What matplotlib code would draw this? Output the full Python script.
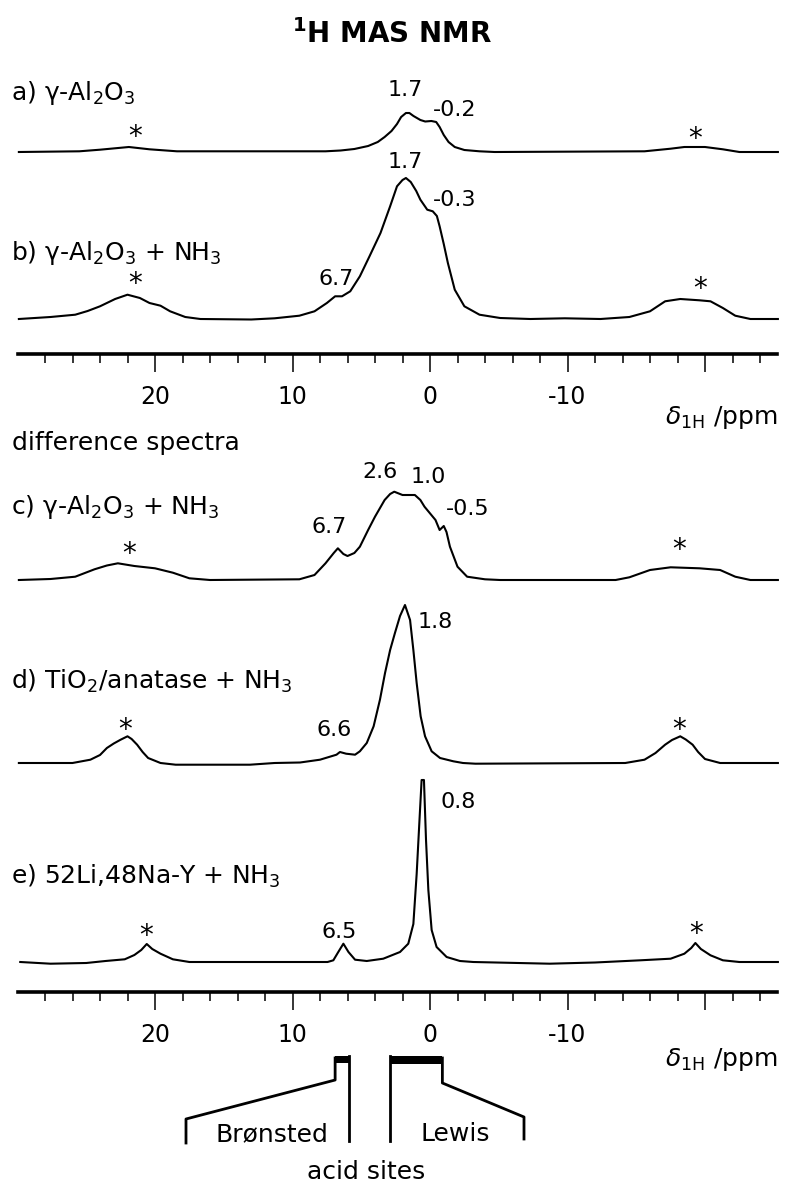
import numpy as np
import matplotlib.pyplot as plt

# digitised 1H MAS NMR spectra: chemical shift (ppm) and intensity (a.u.)
a_ppm = [29.9, 25.5, 24.0, 21.9, 20.4, 18.4, 7.6, 6.5, 5.5, 4.5, 3.8, 3.3, 2.8, 2.4, 2.1,
         1.75, 1.5, 1.2, 0.7, 0.35, -0.1, -0.45, -0.7, -1.0, -1.35, -1.8, -2.5, -3.6, -4.7,
         -15.6, -17.5, -18.5, -20.0, -21.3, -22.5, -25.3]
a_int = [0, 0.7, 2.3, 5, 2.7, 0.7, 0.7, 1.5, 3, 6, 10, 15, 21, 28, 35,
         39, 39, 36, 32, 30.5, 31, 30, 25, 17, 10, 5, 2, 0.7, 0,
         0.7, 3.3, 5, 5, 2.7, 0, 0]

b_ppm = [29.9, 27.6, 25.8, 24.9, 24.0, 22.9, 22.0, 21.1, 20.4, 19.6, 18.9, 17.8, 16.7, 13.0,
         11.3, 9.5, 8.4, 7.5, 6.9, 6.4, 5.8, 5.1, 4.4, 3.6, 2.9, 2.4, 2.0, 1.75, 1.4, 1.0,
         0.7, 0.2, -0.2, -0.5, -0.7, -1.0, -1.3, -1.8, -2.5, -3.6, -5.1, -7.3, -9.8, -12.4,
         -14.5, -16.0, -17.1, -18.2, -19.6, -20.4, -21.3, -22.2, -23.3, -25.3]
b_int = [0, 2, 4.3, 8, 12.7, 20, 24.3, 21, 16, 13.3, 7.7, 2, 0, -0.5,
         0.7, 3.3, 7.7, 16, 22.7, 22.7, 27.7, 42.7, 62.7, 86, 112.7, 132.7, 139, 141, 137, 128,
         119.3, 109.3, 107.7, 103, 92.7, 75, 56, 29.3, 12.7, 4.3, 1, 0, 0.7, 0,
         2, 7.7, 17.7, 20, 18.7, 17.7, 11, 3.3, 0, 0]

c_ppm = [29.9, 27.6, 25.8, 24.4, 23.5, 22.7, 21.5, 20.0, 18.7, 17.5, 16.0, 9.5, 8.4, 7.6,
         7.0, 6.7, 6.3, 6.0, 5.5, 5.1, 4.5, 4.0, 3.3, 2.9, 2.6, 2.0, 1.1, 0.7, 0.4, -0.4,
         -0.7, -1.0, -1.2, -1.45, -2.0, -2.7, -4.0, -5.1, -13.5, -14.5, -16.0, -17.5, -19.6,
         -21.1, -22.2, -23.3, -25.3]
c_int = [0, 1, 3.3, 10.7, 14.5, 16.7, 14, 11.7, 7.3, 1.7, 0, 0.7, 5, 16.7,
         27, 31.7, 26, 24, 27, 33.3, 50, 63.3, 80, 86, 88.3, 85, 85, 80, 73.3, 60,
         50, 54, 48, 33.3, 13.3, 3.3, 0.7, 0, 0, 2.7, 10, 12.7, 11.7,
         10, 3.3, 0, 0]

d_ppm = [29.9, 26.0, 24.7, 24.0, 23.5, 23.0, 22.5, 22.0, 21.7, 21.3,
         20.9, 20.5, 19.6, 18.5, 13.1, 11.3, 9.45, 8.0, 6.8, 6.55,
         6.1, 5.45, 5.1, 4.6, 4.1, 3.64, 3.27, 2.9, 2.55, 2.18,
         1.82, 1.45, 1.21, 0.97, 0.68, 0.36, -0.12, -0.73, -1.7, -2.4,
         -3.3, -14.2, -15.6, -16.4, -17.1, -17.6, -18.2, -18.6, -19.1, -19.5,
         -20.0, -21.1, -25.3]
d_int = [0, 0, 3.3, 8, 15, 19.5, 23.3, 26.7, 24, 18.3,
         11, 5, 0, -1.7, -1.7, 0, 0.5, 3.3, 8.3, 11,
         9.3, 8.3, 11.7, 20, 36.7, 63.3, 90, 113, 130, 147,
         158, 143, 113, 80, 46.7, 26.7, 11.7, 5, 1.7, 0,
         -0.7, 0, 3.3, 10, 18.3, 23, 26.7, 23.5, 18.3, 11,
         4, 0, 0]

e_ppm = [29.8, 27.6, 25.0, 23.6, 22.2, 21.5, 21.0, 20.6, 20.2, 19.6,
         18.7, 17.5, 10.0, 7.45, 7.03, 6.67, 6.3, 5.93, 5.45, 4.6,
         3.4, 2.18, 1.58, 1.21, 0.97, 0.78, 0.61, 0.44, 0.29, 0.12,
         -0.12, -0.48, -1.21, -2.18, -3.15, -8.7, -12.0, -15.3, -17.5, -18.5,
         -19.0, -19.3, -19.7, -20.4, -21.3, -22.5, -25.3]
e_int = [0, -1.7, -1, 1, 2.7, 7, 12, 18, 13, 8.3,
         2.7, 0, 0, 0, 1.7, 10, 18.3, 10, 2.3, 1,
         3.3, 10, 18.3, 38, 88, 138, 182, 182, 122, 72,
         32, 15, 5, 1, 0, -1.7, -0.5, 1.7, 3.3, 8.3,
         14, 19, 13, 6.7, 1.7, 0, 0]

major_ticks = [20, 10, 0, -10, -20]
major_labels = ['20', '10', '0', '-10', '']
minor_ticks = [t for t in range(28, -25, -2) if t % 10 != 0]

bronsted = (6.9, 5.9)
lewis = (2.9, -0.9)

W, H = 785, 1182
fig = plt.figure(figsize=(W / 100, H / 100), dpi=100)

def fx(x):
    return x / W

def fy(y):
    return 1 - y / H

# ppm scale: 0 ppm at x = 430 px, 13.75 px per ppm
xlim = (430 / 13.75, (430 - W) / 13.75)

def panel(top, bottom, base, with_axis=False):
    ax = fig.add_axes([0, fy(bottom), 1, (bottom - top) / H])
    ax.set_xlim(*xlim)
    ax.set_ylim(-(bottom - base), base - top)
    ax.patch.set_alpha(0)
    for s in ['left', 'right', 'top']:
        ax.spines[s].set_visible(False)
    ax.set_yticks([])
    if with_axis:
        ax.spines['bottom'].set_linewidth(2.6)
        ax.spines['bottom'].set_bounds(29.93, -25.27)
        ax.set_xticks(major_ticks)
        ax.set_xticklabels(major_labels)
        ax.set_xticks(minor_ticks, minor=True)
        ax.tick_params(axis='x', which='major', direction='out', length=13, width=1.1,
                       pad=9, labelsize=17)
        ax.tick_params(axis='x', which='minor', direction='out', length=6.5, width=1.1)
    else:
        ax.spines['bottom'].set_visible(False)
        ax.set_xticks([])
    return ax

lw = 1.5
ax_a = panel(80, 170, 152)
ax_a.plot(a_ppm, a_int, color='black', lw=lw)
ax_b = panel(150, 354, 319, with_axis=True)
ax_b.plot(b_ppm, b_int, color='black', lw=lw)
ax_c = panel(470, 600, 580)
ax_c.plot(c_ppm, c_int, color='black', lw=lw)
ax_d = panel(590, 780, 763)
ax_d.plot(d_ppm, d_int, color='black', lw=lw)
ax_e = panel(760, 992, 962, with_axis=True)
ax_e.plot(e_ppm, e_int, color='black', lw=lw)

def txt(x, y, s, size=16, ha='center', **kw):
    fig.text(fx(x), fy(y), s, fontsize=size, ha=ha, va='baseline', **kw)

txt(392, 43, r'$^{\mathbf{1}}$H MAS NMR', size=20, fontweight='bold')

# sample labels
txt(11, 100, r'a) γ-Al$_2$O$_3$', size=18, ha='left')
txt(11, 260, r'b) γ-Al$_2$O$_3$ + NH$_3$', size=18, ha='left')
txt(12, 450, 'difference spectra', size=18, ha='left')
txt(11, 514, r'c) γ-Al$_2$O$_3$ + NH$_3$', size=18, ha='left')
txt(11, 689, r'd) TiO$_2$/anatase + NH$_3$', size=18, ha='left')
txt(11, 884, r'e) 52Li,48Na-Y + NH$_3$', size=18, ha='left')

# peak positions
for x, y, s in [(405, 96, '1.7'), (455, 116, '-0.2'),
                (405, 168, '1.7'), (455, 206, '-0.3'), (336, 285, '6.7'),
                (380, 478, '2.6'), (428, 483, '1.0'), (468, 515, '-0.5'), (329, 533, '6.7'),
                (435, 628, '1.8'), (334, 736, '6.6'),
                (458, 808, '0.8'), (339, 938, '6.5')]:
    txt(x, y, s, size=16)

# spinning sidebands
for x, y in [(135, 130), (695, 132), (135, 277), (700, 282), (129, 547), (679, 543),
             (125, 723), (679, 723), (146, 929), (696, 927)]:
    txt(x, y + 15, '*', size=20)

txt(778, 424, r'$\delta_{\rm 1H}$ /ppm', size=18, ha='right')
txt(778, 1066, r'$\delta_{\rm 1H}$ /ppm', size=18, ha='right')

# acid-site brackets below the lower axis
axb = fig.add_axes([0, 0, 1, fy(1040)])
axb.set_xlim(*xlim)
axb.set_ylim(H, 1040)
axb.axis('off')
ppm_of = lambda px: (430 - px) / 13.75
blw = 2.0
axb.fill_between(bronsted, 1056, 1063, color='black', lw=0)
axb.plot([bronsted[0], bronsted[0], ppm_of(186), ppm_of(186)], [1058, 1080, 1119, 1143],
         color='black', lw=blw)
axb.plot([bronsted[1], bronsted[1]], [1056, 1141], color='black', lw=blw)
axb.fill_between(lewis, 1056, 1064, color='black', lw=0)
axb.plot([lewis[0], lewis[0]], [1056, 1141], color='black', lw=blw)
axb.plot([lewis[1], lewis[1], ppm_of(524), ppm_of(524)], [1058, 1083, 1117, 1139],
         color='black', lw=blw)

txt(272, 1141, 'Brønsted', size=18)
txt(455, 1141, 'Lewis', size=18)
txt(366, 1179, 'acid sites', size=18)

fig.savefig('out.png', dpi=100)
